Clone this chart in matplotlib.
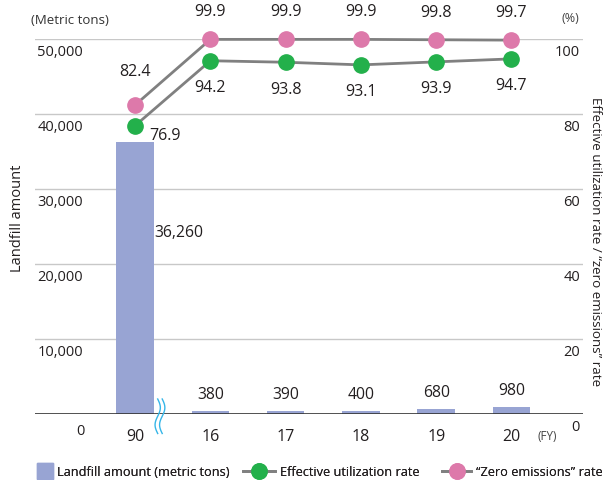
import numpy as np
import matplotlib.pyplot as plt
from matplotlib.lines import Line2D
import matplotlib.transforms as mtransforms

plt.rcParams['font.family'] = ['Open Sans', 'DejaVu Sans']

years = ['90', '16', '17', '18', '19', '20']
landfill = [36260, 380, 390, 400, 680, 980]
landfill_labels = ['36,260', '380', '390', '400', '680', '980']
effective = [76.9, 94.2, 93.8, 93.1, 93.9, 94.7]
zero_em = [82.4, 99.9, 99.9, 99.9, 99.8, 99.7]
left_ticks = [10000, 20000, 30000, 40000, 50000]
right_ticks = [20, 40, 60, 80, 100]

bar_c = '#98a4d3'
green = '#23b04b'
pink = '#dd79aa'
line_c = '#808080'
txt_c = '#231f20'

fig = plt.figure(figsize=(6.07, 4.81), dpi=100)
ax = fig.add_axes([35/607, 1-415/481, 548/607, 375/481])
x = np.arange(len(years))
ax.set_xlim(-1.33, 5.95)
ax.set_ylim(0, 50000)

for t in left_ticks:
    ax.axhline(t, color='#c8c8c8', lw=1, zorder=0)
ax.axhline(0, color='#333333', lw=1.2, zorder=3)
for s in ax.spines.values():
    s.set_visible(False)
ax.set_xticks([])
ax.set_yticks([])

ax.bar(x, landfill, width=0.5, color=bar_c, zorder=2)

# bar value labels
ax.text(x[0] + 0.25, 24300, landfill_labels[0], ha='left', va='center',
        fontsize=11.3, color=txt_c)
for i in range(1, len(years)):
    ax.text(x[i], landfill[i] + 1200, landfill_labels[i], ha='center',
            va='bottom', fontsize=11.3, color=txt_c)

# tick labels drawn inside the plot area, below gridlines
off = mtransforms.offset_copy(ax.transData, fig=fig, x=0, y=-13, units='dots')
for t in left_ticks:
    ax.text(-1.3, t, f'{t:,}', transform=off, ha='left', va='center',
            fontsize=10.5, color=txt_c)
for t in right_ticks:
    ax.text(5.91, t * 500, f'{t}', transform=off, ha='right', va='center',
            fontsize=10.5, color=txt_c)

bt = mtransforms.offset_copy(ax.transData, fig=fig, x=0, y=-22, units='dots')
for i, yl in enumerate(years):
    ax.text(x[i], 0, yl, transform=bt, ha='center', va='center',
            fontsize=11.5, color=txt_c)
ax.text(-0.73, 0, '0', transform=mtransforms.offset_copy(ax.transData, fig=fig, x=0, y=-17, units='dots'),
        ha='center', va='center', fontsize=10.5, color=txt_c)
ax.text(5.85, 0, '0', transform=mtransforms.offset_copy(ax.transData, fig=fig, x=0, y=-13, units='dots'),
        ha='center', va='center', fontsize=10.5, color=txt_c)
ax.text(5.47, 0, '(FY)', transform=bt, ha='center', va='center',
        fontsize=8.5, color='#444444')

# axis break mark between 90 and 16
wy = np.linspace(-2300, 2300, 60)
wx = 0.035 * np.sin(wy / 2300 * np.pi)
for dx in (0.30, 0.36):
    ax.plot(wx + dx, wy - 300, color='#36b6e8', lw=1, clip_on=False, zorder=4)

# rate lines on the right scale
ax2 = ax.twinx()
ax2.set_ylim(0, 100)
ax2.set_yticks([])
for s in ax2.spines.values():
    s.set_visible(False)
ax2.plot(x, zero_em, color=line_c, lw=2, marker='o', ms=11,
         mfc=pink, mec=pink, clip_on=False, zorder=5)
ax2.plot(x, effective, color=line_c, lw=2, marker='o', ms=11,
         mfc=green, mec=green, clip_on=False, zorder=5)

ax2.text(x[0], zero_em[0] + 9, f'{zero_em[0]}', ha='center', va='center',
         fontsize=11.5, color=txt_c)
ax2.text(x[0] + 0.4, effective[0] - 2.5, f'{effective[0]}', ha='center',
         va='center', fontsize=11.5, color=txt_c)
for i in range(1, len(years)):
    ax2.text(x[i], zero_em[i] + 7.5, f'{zero_em[i]}', ha='center',
             va='center', fontsize=11.5, color=txt_c, clip_on=False)
    ax2.text(x[i], effective[i] - 7, f'{effective[i]}', ha='center',
             va='center', fontsize=11.5, color=txt_c)

fig.text(70/607, 1-20/481, '(Metric tons)', ha='center', va='center',
         fontsize=9.5, color='#333333')
fig.text(570/607, 1-18/481, '(%)', ha='center', va='center',
         fontsize=9, color='#444444')
fig.text(18/607, 1-218/481, 'Landfill amount', rotation=90, ha='center',
         va='center', fontsize=10.5, color=txt_c)
fig.text(596/607, 1-242/481, 'Effective utilization rate / \u201czero emissions\u201d rate',
         rotation=-90, ha='center', va='center', fontsize=9.6, color=txt_c)

# legend entries placed one by one along the bottom
entries = [
    (37, Line2D([], [], ls='none', marker='s', ms=11.5, mfc=bar_c, mec=bar_c),
     'Landfill amount (metric tons)', 1.2),
    (243, Line2D([], [], color=line_c, lw=2, marker='o', ms=11, mfc=green, mec=green),
     'Effective utilization rate', 2.5),
    (442, Line2D([], [], color=line_c, lw=2, marker='o', ms=11, mfc=pink, mec=pink),
     '\u201cZero emissions\u201d rate', 2.3),
]
for xpos, h, lab, hl in entries:
    leg = fig.legend([h], [lab], loc='center left',
                     bbox_to_anchor=(xpos/607, 1-473/481), frameon=False,
                     fontsize=9.2, handlelength=hl, handletextpad=0.4,
                     borderpad=0, borderaxespad=0, labelcolor=txt_c)
    fig.add_artist(leg)

fig.savefig('out.png', dpi=100)
